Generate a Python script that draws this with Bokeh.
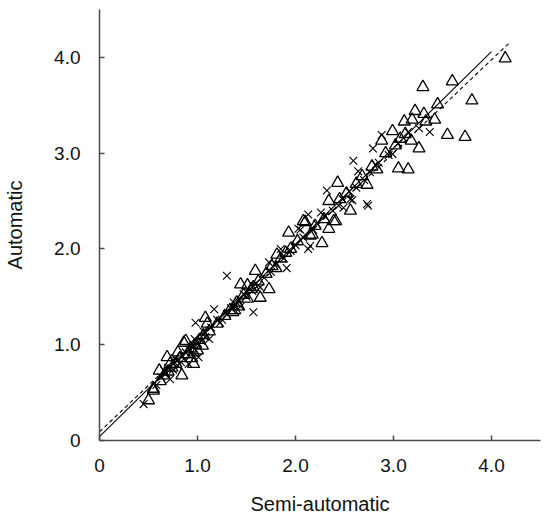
from bokeh.plotting import figure
from bokeh.models import ColumnDataSource, FixedTicker, Range1d
from bokeh.embed import file_html
from bokeh.resources import INLINE

# ---- data ----
tick_values = [0, 1, 2, 3, 4]
tick_labels = ["0", "1.0", "2.0", "3.0", "4.0"]

tri_x = [4.14, 3.60, 3.30, 3.80, 3.45, 3.22, 3.11, 3.19, 3.31, 3.33, 3.42, 2.99, 2.88, 3.07,
         3.18, 3.26, 3.55, 3.73, 3.05, 3.15, 2.83, 2.43, 2.73, 2.56, 2.41, 2.34, 1.93, 2.27,
         2.10, 2.17, 2.08, 2.39, 2.29, 2.15, 2.34, 1.59, 1.44, 1.51, 1.57, 1.73, 1.64, 1.51,
         1.08, 1.81, 1.95, 1.80, 0.84, 0.50, 0.86, 0.69, 0.61, 0.55, 1.05, 0.96, 1.10, 0.88,
         0.96, 0.55, 0.62, 0.66, 0.70, 0.74, 0.78, 0.82, 0.90, 0.93, 0.98, 1.02, 1.06, 1.12,
         1.20, 1.28, 1.33, 1.36, 1.40, 1.47, 1.55, 1.62, 1.70, 1.76, 1.85, 1.90, 2.02, 2.20,
         2.45, 2.52, 2.62, 2.68, 2.78, 2.92, 3.02, 3.12, 0.72, 0.80, 0.94, 1.00, 1.38, 1.42]
tri_y = [3.99, 3.75, 3.69, 3.55, 3.51, 3.44, 3.33, 3.35, 3.41, 3.33, 3.35, 3.23, 3.13, 3.15,
         3.13, 3.05, 3.19, 3.17, 2.84, 2.83, 2.83, 2.69, 2.67, 2.40, 2.29, 2.50, 2.17, 2.06,
         2.28, 2.15, 2.29, 2.29, 2.31, 2.14, 2.21, 1.77, 1.63, 1.62, 1.60, 1.58, 1.49, 1.48,
         1.28, 1.94, 2.00, 1.80, 0.68, 0.42, 1.02, 0.87, 0.73, 0.52, 0.99, 0.92, 1.22, 1.04,
         0.80, 0.54, 0.62, 0.68, 0.72, 0.76, 0.80, 0.86, 0.90, 0.96, 1.00, 1.05, 1.10, 1.14,
         1.22, 1.30, 1.36, 1.34, 1.44, 1.52, 1.58, 1.66, 1.74, 1.82, 1.90, 1.96, 2.08, 2.24,
         2.52, 2.58, 2.68, 2.76, 2.86, 3.00, 3.08, 3.20, 0.80, 0.92, 0.86, 0.94, 1.36, 1.40]

cross_x = [2.88, 2.79, 2.59, 3.37, 3.26, 2.99, 2.32, 2.58, 2.74, 2.49, 2.13, 2.05, 2.13, 2.64,
           2.82, 2.73, 2.56, 2.26, 2.03, 2.15, 1.85, 2.44, 1.30, 1.57, 1.17, 1.91, 1.73, 1.23,
           1.37, 1.47, 0.45, 0.66, 0.79, 0.91, 1.01, 0.72, 0.98, 0.58, 0.63, 0.68, 0.75, 0.80,
           0.85, 0.88, 0.92, 0.95, 1.00, 1.04, 1.08, 1.14, 1.25, 1.30, 1.34, 1.38, 1.42, 1.50,
           1.56, 1.62, 1.68, 1.75, 1.80, 1.88, 1.95, 2.00, 2.08, 2.18, 2.22, 2.30, 2.38, 2.48,
           2.55, 2.62, 2.70, 2.76, 2.85, 2.95, 3.05, 3.15, 0.70, 0.77, 0.83, 0.97, 1.06, 1.12,
           1.20, 1.44, 1.64]
cross_y = [3.19, 3.05, 2.92, 3.22, 3.26, 2.99, 2.61, 2.51, 2.45, 2.43, 2.36, 2.20, 2.00, 2.81,
           2.88, 2.47, 2.52, 2.38, 2.21, 2.03, 2.00, 2.45, 1.72, 1.34, 1.37, 1.80, 1.86, 1.23,
           1.44, 1.53, 0.38, 0.73, 0.83, 0.80, 0.87, 0.64, 1.23, 0.58, 0.66, 0.70, 0.74, 0.78,
           0.88, 0.92, 0.95, 0.98, 1.02, 1.04, 1.08, 1.18, 1.26, 1.32, 1.38, 1.40, 1.45, 1.50,
           1.56, 1.62, 1.70, 1.76, 1.84, 1.90, 1.98, 2.04, 2.12, 2.20, 2.26, 2.34, 2.40, 2.52,
           2.60, 2.64, 2.72, 2.80, 2.90, 2.98, 3.10, 3.22, 0.76, 0.86, 0.82, 1.06, 1.14, 1.06,
           1.26, 1.40, 1.60]

solid_x = [0.0, 4.0]
solid_y = [0.04, 4.06]
dashed_x = [0.0, 4.18]
dashed_y = [0.09, 4.15]

x_label = "Semi-automatic"
y_label = "Automatic"

FONT = "Liberation Sans"
AXIS_COLOR = "#4a4a4a"

p = figure(width=544, height=515, frame_width=441, frame_height=431,
           x_range=Range1d(0, 4.5), y_range=Range1d(0, 4.5),
           output_backend="svg", toolbar_location=None,
           min_border_left=99, min_border_right=4, min_border_top=9, min_border_bottom=75)
p.outline_line_color = None
p.grid.visible = False
p.background_fill_color = "white"

p.line(solid_x, solid_y, line_color="black", line_width=1.1)
p.line(dashed_x, dashed_y, line_color="black", line_width=1.1, line_dash="4 3")

p.scatter(source=ColumnDataSource(dict(x=cross_x, y=cross_y)), x="x", y="y",
          marker="x", size=11, line_color="black", line_width=1.1)
p.scatter(source=ColumnDataSource(dict(x=tri_x, y=tri_y)), x="x", y="y",
          marker="triangle", size=12, line_color="black", line_width=1.3,
          fill_alpha=0)

for ax in (p.xaxis[0], p.yaxis[0]):
    ax.ticker = FixedTicker(ticks=tick_values)
    ax.major_label_overrides = {v: l for v, l in zip(tick_values, tick_labels)}
    ax.axis_line_color = AXIS_COLOR
    ax.axis_line_width = 1.5
    ax.major_tick_line_color = AXIS_COLOR
    ax.major_tick_line_width = 1.5
    ax.major_tick_in = 5
    ax.major_tick_out = 0
    ax.minor_tick_line_color = None
    ax.major_label_text_font = FONT
    ax.major_label_text_font_size = "19px"
    ax.major_label_text_color = "#111111"
    ax.axis_label_text_font = FONT
    ax.axis_label_text_font_size = "20px"
    ax.axis_label_text_font_style = "normal"
    ax.axis_label_text_color = "#111111"

p.xaxis[0].axis_label = x_label
p.yaxis[0].axis_label = y_label
p.xaxis[0].major_label_standoff = 18
p.yaxis[0].major_label_standoff = 19
p.xaxis[0].axis_label_standoff = 18
p.yaxis[0].axis_label_standoff = 25

open("out.html", "w").write(file_html(p, INLINE))
